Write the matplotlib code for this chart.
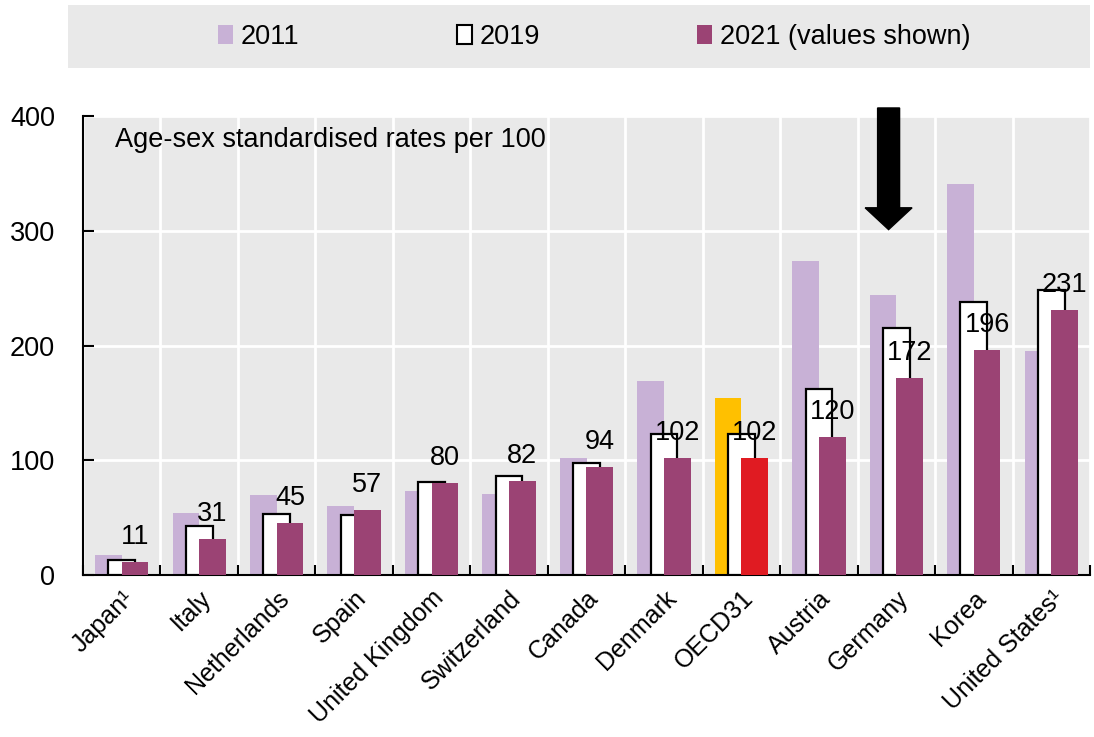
import matplotlib
matplotlib.use("Agg")
import matplotlib.pyplot as plt
import matplotlib.transforms as mtransforms
from matplotlib import font_manager
from matplotlib.patches import Rectangle, Patch
import numpy as np

countries = ["Japan¹", "Italy", "Netherlands", "Spain", "United Kingdom", "Switzerland",
             "Canada", "Denmark", "OECD31", "Austria", "Germany", "Korea", "United States¹"]
v2011 = [17, 54, 70, 60, 73, 71, 102, 169, 154, 274, 244, 341, 195]
v2019 = [13, 43, 53, 52, 81, 86, 98, 123, 123, 162, 215, 238, 248]
v2021 = [11, 31, 45, 57, 80, 82, 94, 102, 102, 120, 172, 196, 231]

c2011 = "#C8B1D6"
c2021 = "#9B4374"
oecd2011 = "#FFC000"
oecd2021 = "#E01B22"
bg = "#E9E9E9"

installed = {f.name for f in font_manager.fontManager.ttflist}
if "Liberation Sans Narrow" in installed:
    plt.rcParams['font.family'] = ['Liberation Sans Narrow', 'DejaVu Sans']
    fs, fs_x = 21, 21
else:
    plt.rcParams['font.family'] = ['Liberation Sans', 'DejaVu Sans']
    fs, fs_x = 19.5, 18

fig = plt.figure(figsize=(10.94, 7.37), dpi=100)
ax = fig.add_axes([83/1094, 1 - 575/737, 1007/1094, 459/737])
ax.set_facecolor(bg)

x = np.arange(len(countries))
w = 0.345
off = 0.172
col11 = [oecd2011 if c == "OECD31" else c2011 for c in countries]
col21 = [oecd2021 if c == "OECD31" else c2021 for c in countries]

ax.bar(x - off, v2011, w, color=col11, zorder=2)
ax.bar(x, v2019, w, color="white", edgecolor="black", linewidth=1.6, zorder=3)
ax.bar(x + off, v2021, w, color=col21, zorder=4)

for xi, v in zip(x, v2021):
    ax.annotate(str(v), (xi + off, v), xytext=(0, 18), textcoords="offset points",
                ha="center", va="center", fontsize=fs, zorder=6)

ax.set_xlim(-0.5, len(countries) - 0.5)
ax.set_ylim(0, 400)
ax.set_yticks([0, 100, 200, 300, 400])
ax.set_xticks(x)
ax.set_xticklabels(countries, rotation=45, ha="right", rotation_mode="anchor", fontsize=fs_x)
shift = mtransforms.ScaledTranslation(-6/100, 0, fig.dpi_scale_trans)
for lab in ax.get_xticklabels():
    lab.set_transform(lab.get_transform() + shift)
ax.set_xticks(np.arange(len(countries) + 1) - 0.5, minor=True)
ax.tick_params(axis="x", which="major", length=0, pad=8)
ax.tick_params(axis="x", which="minor", direction="in", length=7, width=1.5)
ax.tick_params(axis="y", direction="in", length=8, width=1.5, labelsize=fs, pad=20)

for s in ["top", "right"]:
    ax.spines[s].set_visible(False)
for s in ["left", "bottom"]:
    ax.spines[s].set_linewidth(1.5)

ax.grid(axis="y", color="white", linewidth=2, zorder=1)
ax.grid(axis="x", which="minor", color="white", linewidth=2, zorder=1)
ax.set_axisbelow(True)

ax.text(0.032, 0.948, "Age-sex standardised rates per 100", transform=ax.transAxes,
        ha="left", va="center", fontsize=fs)

# arrow pointing at Germany
ax.arrow(9.9, 407, 0, -106, width=0.284, head_width=0.606, head_length=19,
         length_includes_head=True, color="black", clip_on=False, zorder=7)

# legend band
fig.patches.append(Rectangle((68/1094, 1 - 68/737), 1022/1094, 63/737,
                             transform=fig.transFigure, facecolor=bg, edgecolor="none"))
handles = [Patch(facecolor=c2011, edgecolor="none"),
           Patch(facecolor="white", edgecolor="black", linewidth=1.5),
           Patch(facecolor=c2021, edgecolor="none")]
fig.legend(handles, ["2011", "2019", "2021 (values shown)"], loc="center left",
           bbox_to_anchor=(218/1094, 1 - 37/737), ncol=3, frameon=False, fontsize=fs,
           borderpad=0, borderaxespad=0, handlelength=0.55, handleheight=0.7,
           handletextpad=0.3, columnspacing=5.8)

fig.savefig("out.png", dpi=100)
